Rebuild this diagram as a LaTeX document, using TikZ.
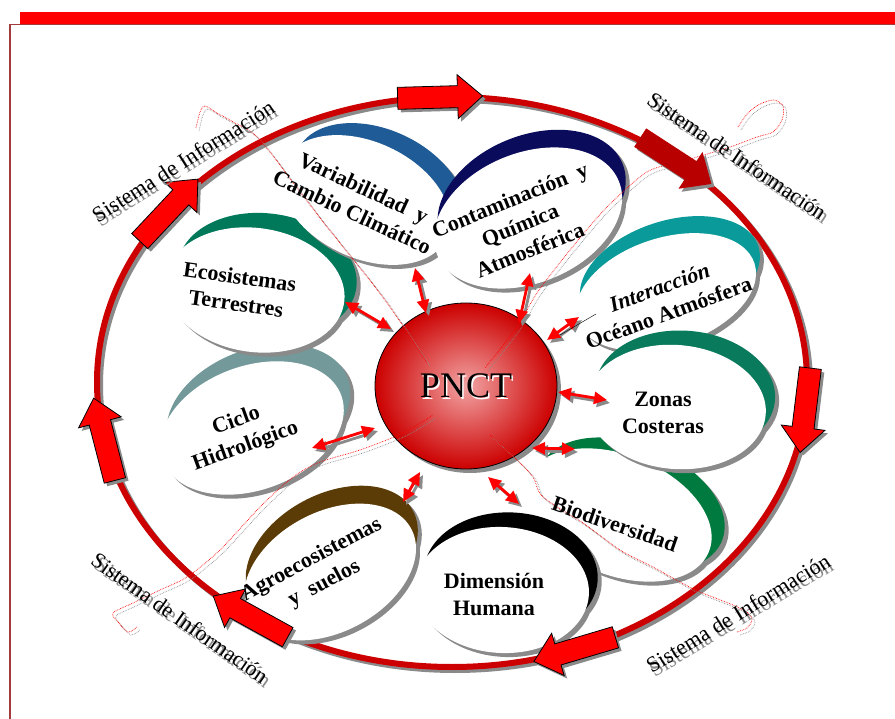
\documentclass[tikz,border=0pt]{standalone}
\usepackage{fontspec}
\setmainfont{Liberation Serif}
\usetikzlibrary{arrows.meta,shapes.geometric}

\definecolor{framered}{HTML}{A33B3B}
\definecolor{barred}{HTML}{FF0000}
\definecolor{ringred}{HTML}{CC0000}
\definecolor{darkred}{HTML}{B80000}
\definecolor{pnctpink}{HTML}{F2A4A4}
\definecolor{shadowgrey}{HTML}{8A8A8A}
\definecolor{ecosgreen}{HTML}{00785A}
\definecolor{cicloteal}{HTML}{73999A}
\definecolor{variablue}{HTML}{1F5B96}
\definecolor{contanavy}{HTML}{0B0B5C}
\definecolor{interteal}{HTML}{0A9A9A}
\definecolor{zonasgreen}{HTML}{0A7A5C}
\definecolor{biodigreen}{HTML}{007A3E}
\definecolor{agrobrown}{HTML}{5C3C06}

% moon: x, y, angle, x radius, y radius, colour, offset x, offset y
\newcommand\moon[8]{%
  \begin{scope}[shift={(#1+4,#2+4)},rotate=#3]
    \fill[shadowgrey] (0,0) ellipse[x radius=#4,y radius=#5]
      (#7,#8) ellipse[x radius=#4,y radius=#5];
  \end{scope}
  \begin{scope}[shift={(#1,#2)},rotate=#3]
    \fill[#6] (#7,#8) ellipse[x radius=#4,y radius=#5];
    \fill[white] (0,0) ellipse[x radius=#4,y radius=#5];
  \end{scope}}

% block arrow on the ring at parameter #1
\newcommand\ringarrow[2]{%
  \pgfmathsetmacro\ax{452+355*cos(#1)}
  \pgfmathsetmacro\ay{382-285*sin(#1)}
  \pgfmathsetmacro\aa{atan2(-285*cos(#1),355*sin(#1))}
  \fill[shadowgrey,shift={(\ax+3,\ay+3)},rotate=\aa]
    (-42,-11) -- (18,-11) -- (18,-22) -- (43,0) -- (18,22) -- (18,11) -- (-42,11) -- cycle;
  \path[#2,shift={(\ax,\ay)},rotate=\aa]
    (-42,-11) -- (18,-11) -- (18,-22) -- (43,0) -- (18,22) -- (18,11) -- (-42,11) -- cycle;}

\newcommand\sistema[4]{%
  \node[sislabel,text=shadowgrey,rotate=#4] (#1-s) at (#2+3,#3+4) {Sistema de Información};
  \node[sislabel,rotate=#4] (#1) at (#2,#3) {Sistema de Información};}

\begin{document}
\begin{tikzpicture}[x=1pt,y=-1pt,
    topic/.style={align=center,inner sep=0pt,font=\bfseries\fontsize{22}{27}\selectfont},
    sislabel/.style={inner sep=0pt,font=\fontsize{22}{24}\selectfont},
    pnct/.style={ellipse,draw=black,line width=0.8pt,minimum width=182pt,minimum height=166pt,
      inner color=pnctpink,outer color=ringred,font=\fontsize{36}{40}\selectfont},
    link/.style={barred,line width=2.8pt,<->,>={Triangle[length=13pt,width=12pt]}},
    linkshadow/.style={link,shadowgrey},
    trail/.style={barred,densely dotted,line width=0.7pt},
    trailshadow/.style={trail,shadowgrey},
    blockarrow/.style={fill=barred,draw=black,line width=0.8pt},
    darkarrow/.style={fill=darkred}
]
\useasboundingbox (0,0) rectangle (895,719);

% cadre
\fill[barred] (20,12) rectangle (895,24);
\draw[framered,line width=1.2pt] (895,24.5) -- (10,24.5) -- (10,719);

% anneau
\draw[shadowgrey,line width=6pt] (455,385) ellipse[x radius=355,y radius=285];
\draw[ringred,line width=6pt] (452,382) ellipse[x radius=355,y radius=285];

% themes
\moon{666}{292}{18}{93}{54}{interteal}{9}{-15}
\moon{618}{515}{-22}{98}{60}{biodigreen}{8}{-15}
\moon{676}{407}{-5}{90}{62}{zonasgreen}{8}{-15}
\moon{252}{428}{20}{95}{62}{cicloteal}{12}{-14}
\moon{255}{290}{-8}{90}{62}{ecosgreen}{10}{-16}
\moon{330}{572}{28}{92}{60}{agrobrown}{10}{-15}
\moon{502}{590}{-3}{87}{63}{black}{8}{-15}
\moon{365}{200}{-25}{90}{58}{variablue}{8}{-17}
\moon{528}{218}{22}{98}{65}{contanavy}{10}{-15}

% PNCT
\fill[shadowgrey] (470,390) ellipse[x radius=91,y radius=83];
\node[pnct] (pnct) at (466,386) {};

% fleches doubles
\coordinate (a1) at (345,302); \coordinate (a2) at (391,329);
\coordinate (b1) at (312,448); \coordinate (b2) at (375,428);
\coordinate (c1) at (415,268); \coordinate (c2) at (426,313);
\coordinate (d1) at (530,273); \coordinate (d2) at (519,323);
\coordinate (e1) at (579,317); \coordinate (e2) at (547,340);
\coordinate (f1) at (607,400); \coordinate (f2) at (558,392);
\coordinate (g1) at (575,449); \coordinate (g2) at (532,448);
\coordinate (h1) at (519,504); \coordinate (h2) at (488,477);
\coordinate (i1) at (403,502); \coordinate (i2) at (420,472);
\foreach \s/\e in {a1/a2,b1/b2,c1/c2,d1/d2,e1/e2,f1/f2,g1/g2,h1/h2,i1/i2}{
  \draw[linkshadow] ([shift={(3,3)}]\s) -- ([shift={(3,3)}]\e);
  \draw[link] (\s) -- (\e);
}
\coordinate (e3) at (596,314); \coordinate (e4) at (560,335);
\draw[thin] (e3) -- (e4);

% traces
\draw[trailshadow,shift={(3,3)}] plot[smooth] coordinates {(196,128) (200,112) (205,106) (217,113) (235,123) (260,140) (320,218) (385,300) (427,363)};
\draw[trail] plot[smooth] coordinates {(196,128) (200,112) (205,106) (217,113) (235,123) (260,140) (320,218) (385,300) (427,363)};
\draw[trailshadow,shift={(3,3)}] plot[smooth] coordinates {(738,127) (748,113) (760,104) (774,100) (783,106) (782,120) (773,132) (757,137) (727,148) (680,162) (647,172) (607,207) (570,250) (537,293) (517,327) (485,368)};
\draw[trail] plot[smooth] coordinates {(738,127) (748,113) (760,104) (774,100) (783,106) (782,120) (773,132) (757,137) (727,148) (680,162) (647,172) (607,207) (570,250) (537,293) (517,327) (485,368)};
\draw[trailshadow,shift={(3,3)}] plot[smooth] coordinates {(137,627) (128,632) (118,622) (113,613) (133,603) (160,590) (187,577) (220,550) (260,507) (293,477) (320,462) (360,450) (403,433) (433,415)};
\draw[trail] plot[smooth] coordinates {(137,627) (128,632) (118,622) (113,613) (133,603) (160,590) (187,577) (220,550) (260,507) (293,477) (320,462) (360,450) (403,433) (433,415)};
\draw[trailshadow,shift={(3,3)}] plot[smooth] coordinates {(737,632) (747,628) (752,620) (748,613) (733,605) (700,592) (680,582) (653,567) (620,550) (583,523) (543,497) (533,477) (517,460) (490,435)};
\draw[trail] plot[smooth] coordinates {(737,632) (747,628) (752,620) (748,613) (733,605) (700,592) (680,582) (653,567) (620,550) (583,523) (543,497) (533,477) (517,460) (490,435)};

% fleches de l'anneau
\foreach \t in {92,-5.6,-69.7,-124.5,-168.3,143}{\ringarrow{\t}{blockarrow}}
\ringarrow{51}{darkarrow}

% textes
\node[topic,rotate=-8] (ecos) at (238,290) {Ecosistemas\\Terrestres};
\node[topic,rotate=20] (ciclo) at (241,434) {Ciclo\\Hidrológico};
\node[topic,rotate=-25] (varia) at (358,200) {Variabilidad~~y\\Cambio Climático};
\node[topic,rotate=22] (conta) at (520,225) {Contaminación~~y\\Química\\Atmosférica};
\node[topic,rotate=20] (inter) at (664,300) {\textit{Interacción}\\Océano Atmósfera};
\node[topic] (zonas) at (663,413) {Zonas\\Costeras};
\node[topic,rotate=-19] (biodi) at (615,524) {Biodiversidad};
\node[topic] (dimen) at (494,594) {Dimensión\\Humana};
\node[topic,rotate=28] (agro) at (318,572) {Agroecosistemas\\y~~suelos};

\sistema{sisNO}{183}{161}{32}
\sistema{sisNE}{737}{156}{-34}
\sistema{sisSO}{180}{618}{-35}
\sistema{sisSE}{738}{613}{31}

\node[font=\fontsize{36}{40}\selectfont,text=white] (pnct-s) at (467.5,387.5) {PNCT};
\node[font=\fontsize{36}{40}\selectfont] (pnct-t) at (466,386) {PNCT};
\end{tikzpicture}
\end{document}
